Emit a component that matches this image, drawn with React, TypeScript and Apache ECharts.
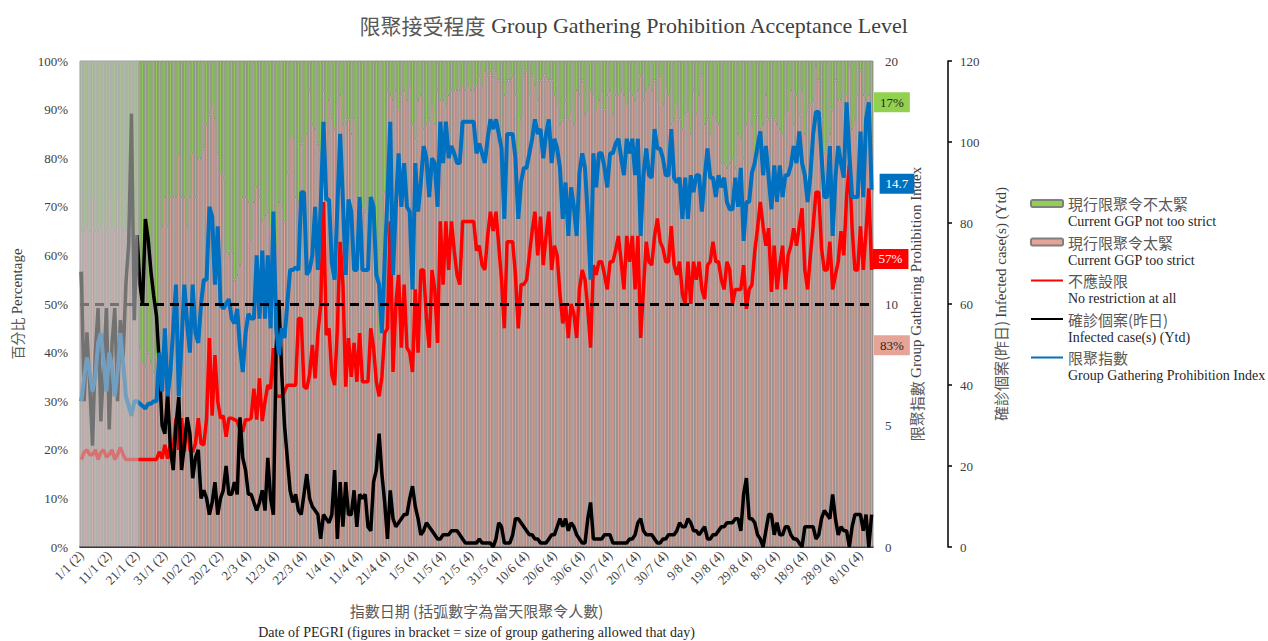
import React, { useEffect, useRef } from 'react';
import * as echarts from 'echarts';

// ---------- categories ----------
const START_YEAR = 2021;
const DAY_COUNT = 285;
// group gathering size allowed (index of first day with that size)
const GROUP_SIZE_FROM_INDEX = [0, 55];
const GROUP_SIZE_VALUES = [2, 4];
// days shown greyed out at the start of the period (first..last index)
const GREY_FIRST = 0;
const GREY_LAST = 20;

function buildCategories(): string[] {
  const out: string[] = [];
  for (let i = 0; i < DAY_COUNT; i++) {
    const d = new Date(Date.UTC(START_YEAR, 0, 1 + i));
    let size = GROUP_SIZE_VALUES[0];
    for (let k = 0; k < GROUP_SIZE_FROM_INDEX.length; k++) {
      if (i >= GROUP_SIZE_FROM_INDEX[k]) size = GROUP_SIZE_VALUES[k];
    }
    out.push(`${d.getUTCDate()}/${d.getUTCMonth() + 1} (${size})`);
  }
  return out;
}
const categories = buildCategories();

// ---------- series values ----------
// 現行限聚令太緊 Current GGP too strict (%)
const tooStrict: number[] = [
  65, 65, 66, 65, 72, 65, 65, 66, 67, 65, 72, 66, 65, 72, 66, 65, 65, 66, 64, 65, 62,
  41, 38, 37, 40, 38, 36, 39, 42,
  66, 72, 66, 72, 72, 72, 81, 72, 72, 66, 72, 81, 72, 80, 80, 82, 87,
  89, 91, 88, 81, 77, 76, 61, 60, 61, 55, 56, 58, 72, 72, 71, 63, 71, 74, 72, 67, 68, 69, 66, 64, 62,
  71, 70, 67, 77, 84, 84, 72, 71, 83, 68, 85, 94, 87, 86, 83, 81, 94, 87, 92, 88, 86, 91, 93, 87, 87,
  88, 85, 88, 72, 69, 70, 69, 68, 72, 65, 56, 43, 60, 73, 94, 93, 92, 94, 90, 93, 94, 92, 95, 87,
  84, 92, 93, 86, 87, 88, 91, 87, 94, 92, 92, 91, 93, 94, 94, 94, 94, 95, 94, 95, 94, 94, 95,
  97, 95, 98, 97, 98, 97, 98, 96, 81, 93, 96, 96, 97, 93, 81, 88, 97, 98, 93, 97, 95, 92, 96, 97,
  97, 96, 96, 93, 91, 87, 88, 92, 88, 90, 87, 94, 93, 96, 89, 90, 94, 93, 90, 92, 94, 90, 93, 94,
  89, 93, 93, 94, 93, 91, 94, 93, 92, 94, 97, 92, 94, 95, 94, 96, 92, 97, 91, 95, 93, 87, 88, 91,
  88, 86, 89, 90, 85, 94, 89, 93, 97, 87, 88, 85, 89, 88, 87, 79, 79, 78, 79, 80, 78, 85, 84,
  80, 87, 90, 87, 78, 89, 86, 87, 93, 88, 89, 88, 87, 86, 85, 89, 90, 94, 87, 93, 89, 94, 85, 90,
  91, 92, 99, 96, 88, 81, 83, 85, 90, 96, 92, 92, 91, 93, 99, 86, 88, 93, 98, 93, 92, 93, 83,
];

// 不應設限 No restriction at all (%)
const noRestriction: number[] = [
  18, 19.5, 20, 19, 19, 20, 18, 19.5, 20, 18.5, 19, 20, 18, 19, 20.5, 19, 18, 18, 18, 18, 18,
  18, 18, 18, 18, 18, 18, 18, 19.6, 18.2, 21, 18.2, 21, 20, 26.5, 20, 26.5, 19.6, 26.5, 20, 19.6, 21.3, 26.5, 21.3, 21, 26.5,
  43, 27, 39.5, 30, 26.5, 27, 22.7, 26.5, 26.5, 26.2, 25.9, 24, 23.8, 26.2, 26.2, 26.5, 32.6, 26.2, 34.7, 25.9, 30, 33.3, 32.6, 40.9,
  31, 31, 31, 32, 33.3, 33.3, 33.3, 33.3, 47, 47, 33, 32.6, 35.4, 41.6, 34.7, 44, 49.8, 71, 43.6, 45, 35.4, 33.3, 45, 62.8, 54,
  33, 43, 35, 42, 34, 44, 34, 34, 34, 45, 41, 34, 31, 35, 44, 45, 67, 36, 50, 56, 41, 54, 41, 40,
  36, 53, 40, 57, 57, 47, 41, 57, 53, 42, 67, 54, 67, 57, 67, 61, 56, 54, 67, 67, 67, 67, 67, 61,
  62, 58, 57, 64, 69, 65, 69, 62, 55, 45, 62.8, 62.8, 62.8, 56, 45, 54, 54, 55, 60, 65, 69, 60, 68,
  58, 64, 69, 57, 62, 60, 52, 46, 50, 43, 50, 48, 43, 53, 57, 55, 49, 41, 58, 56, 58.7, 58.7, 56,
  53, 58.7, 58.7, 61, 64, 58.7, 53, 64, 58.7, 64, 53, 64, 43, 53, 62.8, 58.7, 58, 64, 67.6, 62.8, 61.5, 58.7, 58.7, 66,
  58, 56, 58.7, 52, 50, 58.7, 50, 58.7, 55, 58.7, 53, 51, 58, 58.7, 62.8, 58.7, 58.7, 55, 53, 58.7, 57, 50, 53,
  53, 53, 58, 49, 53, 54, 60.8, 65.6, 71, 66, 62, 65.6, 52.5, 62, 53, 58, 62, 53, 60, 62, 65.6, 62, 66, 69.7, 57,
  53, 60, 66, 73, 73, 61.5, 57, 57, 62.8, 53, 56, 58.7, 65, 60, 72, 78.6, 65.6, 57, 57, 66, 57, 65, 73.8, 57,
];

// 確診個案(昨日) Infected case(s) (Ytd)
const infected: number[] = [
  68, 36, 53, 40, 25, 48, 59, 31, 45, 59, 29, 50, 59, 36, 56, 47, 65, 75, 107, 56, 77, 65, 60,
  81, 76, 68, 62, 57, 45, 30, 28, 38, 24, 19, 30, 37, 19, 25, 32, 28, 17, 22, 24, 12, 14, 12,
  8, 11, 16, 8, 12, 14, 20, 13, 13, 16, 13, 32, 22, 19, 13, 13, 11, 9, 11, 14, 9, 22, 12, 8, 49, 61, 43, 30,
  22, 14, 11, 13, 9, 8, 13, 18, 12, 10, 9, 8, 2, 8, 7, 6, 8, 19, 2, 16, 5, 16, 8, 8, 14, 5, 13, 12, 13, 5,
  4, 16, 19, 28, 18, 11, 2, 14, 7, 5,
  6, 7, 8, 8, 12, 15, 10, 7, 3, 4, 6, 5, 4, 3, 2, 2, 3, 3, 3, 4, 4, 4, 3, 2, 1, 1, 1, 1, 1, 2,
  1, 1, 1, 1, 0, 2, 6, 5, 1, 1, 1, 3, 7, 7, 6, 5, 4, 3, 3, 2, 2, 1, 1, 1, 2, 3, 3, 5, 7, 5,
  7, 4, 6, 5, 3, 2, 1, 1, 7, 11, 2, 2, 2, 2, 3, 3, 3, 1, 1, 1, 1, 1, 1, 2, 2, 3, 6, 7, 4, 3,
  3, 3, 2, 1, 1, 2, 2, 3, 3, 3, 4, 6, 5, 5, 7, 6, 4, 4, 3, 4, 5, 2, 2, 3, 3, 4, 5, 5, 6, 6,
  6, 7, 7, 4, 13, 17, 7, 7, 6, 3, 2, 0, 4, 8, 8, 3, 6, 3, 3, 5, 5, 3, 2, 2, 1, 0, 5, 5, 5, 5,
  2, 3, 7, 9, 8, 7, 13, 7, 3, 5, 4, 4, 0, 5, 8, 8, 8, 4, 8, 0, 8,
];

// 限聚指數 Group Gathering Prohibition Index (0-20)
const ggpIndex: number[] = [
  6.0, 7.0, 7.8, 7.2, 6.4, 7.0, 8.4, 8.8, 7.6, 6.4, 8.0, 7.4, 6.2, 7.2, 8.8, 7.6, 6.2, 5.8, 5.4, 6.0, 6.0,
  5.9, 5.8, 5.7, 5.9, 5.9, 6.0, 6.0, 8.0, 6.4, 9.0, 6.2, 7.2, 9.0, 10.8, 6.2, 8.4, 10.8, 9.2, 8.0, 10.8, 8.8, 8.4, 10.0, 11.0, 11.0,
  14.0, 13.6, 10.8, 13.2, 10.0, 9.8, 10.0, 10.2, 9.4, 9.2, 9.8, 8.2, 7.2, 8.8, 9.6, 9.4, 9.4, 12.0, 9.4, 12.2, 9.4, 12.0, 9.0, 13.8, 9.0,
  7.9, 9.0, 8.6, 10.0, 11.4, 11.4, 11.5, 11.4, 14.6, 14.6, 11.2, 11.4, 12.0, 14.0, 11.4, 14.0, 17.5, 14.3, 14.3, 11.7, 11.0, 14.0, 17.0, 14.2, 11.2,
  14.3, 13.8, 11.4, 11.4, 14.4, 11.4, 11.4, 11.4, 14.4, 14.0, 11.2, 10.8, 8.8, 11.8, 14.4, 17.5, 11.2, 14.0, 16.2, 14.0, 15.8, 14.0, 13.8, 10.6,
  15.8, 13.8, 15.0, 16.5, 16.0, 14.4, 16.0, 15.8, 14.0, 17.5, 15.8, 17.5, 16.0, 16.5, 16.2, 15.8, 15.8, 17.5, 17.5, 17.5, 17.5, 17.5, 16.2,
  16.6, 16.2, 15.8, 16.8, 17.6, 17.2, 17.6, 17.0, 16.4, 13.5, 17.0, 17.0, 17.0, 16.0, 13.5, 15.0, 15.6, 15.6, 16.2, 16.8, 17.6, 17.0, 17.2,
  16.0, 17.0, 17.6, 15.8, 16.8, 16.4, 15.6, 13.5, 15.0, 12.8, 14.8, 14.0, 12.8, 15.4, 16.2, 15.6, 13.6, 11.0, 16.2, 14.8, 16.2, 16.2, 15.6,
  14.8, 16.2, 16.2, 16.6, 16.8, 16.0, 15.3, 16.8, 16.2, 16.8, 15.3, 16.8, 12.8, 15.3, 16.4, 15.3, 15.2, 17.2, 16.4, 16.4, 16.0, 15.3, 15.3, 17.2,
  15.2, 15.0, 15.2, 13.5, 15.2, 13.5, 15.3, 14.6, 15.3, 15.3, 13.8, 15.2, 16.4, 15.2, 15.2, 14.4, 15.3, 14.8, 15.2, 14.2, 13.9, 13.9, 15.2,
  14.0, 15.6, 12.6, 14.2, 14.2, 15.4, 15.8, 16.5, 17.1, 15.3, 16.5, 15.2, 13.9, 15.7, 14.2, 15.7, 14.4, 15.3, 15.3, 15.7, 16.5, 15.8, 17.1, 15.8, 15.3,
  14.2, 15.3, 17.0, 17.9, 17.9, 16.1, 14.4, 14.4, 16.5, 12.8, 15.2, 16.5, 15.8, 15.2, 18.3, 16.2, 14.4, 14.4, 14.4, 17.1, 14.4, 17.6, 18.3, 14.7,
];

// derived: 現行限聚令不太緊 (complement of too strict, 100% stacked)
const notTooStrict = tooStrict.map((v) => 100 - v);

// ---------- names ----------
const NAME_GREEN = '現行限聚令不太緊';
const NAME_PINK = '現行限聚令太緊';
const NAME_RED = '不應設限';
const NAME_BLACK = '確診個案(昨日)';
const NAME_BLUE = '限聚指數';
const LEGEND_EN: Record<string, string> = {
  [NAME_GREEN]: 'Current GGP not too strict',
  [NAME_PINK]: 'Current GGP too strict',
  [NAME_RED]: 'No restriction at all',
  [NAME_BLACK]: 'Infected case(s) (Ytd)',
  [NAME_BLUE]: 'Group Gathering Prohibition Index',
};

const SERIF = "'Liberation Serif', 'Times New Roman', 'Noto Sans CJK TC', serif";
const CJK = "'Noto Sans CJK TC', 'Noto Sans CJK SC', sans-serif";
const TXT = '#404040';
const CJK_TXT = '#595959';
const GREEN = '#92D050';
const PINK = '#E6A397';
const RED = '#FF0000';
const BLUE = '#0070C0';
const BAR_BORDER = '#808080';

export default function App() {
  const ref = useRef<HTMLDivElement>(null);

  useEffect(() => {
    if (!ref.current) return;
    const chart = echarts.init(ref.current, undefined, { renderer: 'svg' });
    const last = DAY_COUNT - 1;

    const endBarLabel = (bg: string) => ({
      show: true,
      position: 'right',
      distance: 1,
      formatter: '{c}%',
      backgroundColor: bg,
      color: '#262626',
      fontFamily: SERIF,
      fontSize: 13,
      padding: [4, 6, 3, 6],
    });
    const pinkData = tooStrict.map((v, i) => (i === last ? { value: v, label: endBarLabel(PINK) } : v));
    const greenData = notTooStrict.map((v, i) => (i === last ? { value: v, label: endBarLabel(GREEN) } : v));

    const option: any = {
      animation: false,
      backgroundColor: '#ffffff',
      title: {
        text: '{cn|限聚接受程度} {en|Group Gathering Prohibition Acceptance Level}',
        left: 'center',
        top: 9,
        textStyle: {
          rich: {
            cn: { fontFamily: CJK, fontSize: 21, color: CJK_TXT, fontWeight: 'normal' },
            en: { fontFamily: SERIF, fontSize: 22, color: TXT, fontWeight: 'normal' },
          },
        },
      },
      legend: {
        orient: 'vertical',
        left: 1030,
        top: 196,
        padding: 0,
        itemWidth: 32,
        itemHeight: 7,
        itemGap: 6,
        data: [
          { name: NAME_GREEN },
          { name: NAME_PINK },
          { name: NAME_RED, itemStyle: { opacity: 0 } },
          { name: NAME_BLACK, itemStyle: { opacity: 0 } },
          { name: NAME_BLUE, itemStyle: { opacity: 0 } },
        ],
        formatter: (name: string) => `{cn|${name}}\n{en|${LEGEND_EN[name]}}`,
        textStyle: {
          padding: [18, 0, 0, 0],
          rich: {
            cn: { fontFamily: CJK, fontSize: 15, lineHeight: 18, color: CJK_TXT },
            en: { fontFamily: SERIF, fontSize: 14, lineHeight: 18, color: '#262626' },
          },
        },
      },
      grid: {
        left: 80,
        right: 395,
        top: 61,
        bottom: 94,
        outerBoundsMode: 'none',
        containLabel: false,
        show: true,
        borderColor: '#A6A6A6',
        borderWidth: 1,
        backgroundColor: 'transparent',
      },
      xAxis: {
        type: 'category',
        data: categories,
        boundaryGap: true,
        axisLine: { show: true, lineStyle: { color: '#000', width: 1.5 } },
        axisTick: { show: false },
        axisLabel: {
          interval: 9,
          rotate: 45,
          margin: 6,
          fontFamily: SERIF,
          fontSize: 13,
          color: TXT,
        },
        name: '{cn|指數日期 (括弧數字為當天限聚令人數)}\n{en|Date of PEGRI (figures in bracket = size of group gathering allowed that day)}',
        nameLocation: 'middle',
        nameGap: 52,
        nameTextStyle: {
          rich: {
            cn: { fontFamily: CJK, fontSize: 15, lineHeight: 22, color: CJK_TXT },
            en: { fontFamily: SERIF, fontSize: 14, lineHeight: 22, color: '#262626' },
          },
        },
      },
      yAxis: [
        {
          type: 'value',
          position: 'left',
          min: 0,
          max: 100,
          interval: 10,
          axisLine: { show: false },
          axisTick: { show: false },
          splitLine: { show: false },
          axisLabel: { formatter: '{value}%', margin: 12, fontFamily: SERIF, fontSize: 13, color: TXT },
          name: '{cn|百分比} {en|Percentage}',
          nameLocation: 'middle',
          nameRotate: 90,
          nameGap: 56,
          nameTextStyle: {
            rich: {
              cn: { fontFamily: CJK, fontSize: 14, color: CJK_TXT },
              en: { fontFamily: SERIF, fontSize: 15, color: TXT },
            },
          },
        },
        {
          type: 'value',
          position: 'right',
          min: 0,
          max: 20,
          interval: 5,
          axisLine: { show: false },
          axisTick: { show: false },
          splitLine: { show: false },
          axisLabel: { margin: 12, fontFamily: SERIF, fontSize: 13, color: TXT },
          name: '{cn|限聚指數} {en|Group Gathering Prohibition Index}',
          nameLocation: 'middle',
          nameRotate: 90,
          nameGap: 34,
          nameTextStyle: {
            rich: {
              cn: { fontFamily: CJK, fontSize: 15, color: CJK_TXT },
              en: { fontFamily: SERIF, fontSize: 15, color: TXT },
            },
          },
        },
        {
          type: 'value',
          position: 'right',
          offset: 75,
          min: 0,
          max: 120,
          interval: 20,
          axisLine: { show: true, lineStyle: { color: '#000', width: 1.5 } },
          axisTick: { show: true, length: 4, lineStyle: { color: '#000', width: 1.5 } },
          splitLine: { show: false },
          axisLabel: { margin: 12, fontFamily: SERIF, fontSize: 13, color: TXT },
          name: '{cn|確診個案(昨日)} {en|Infected case(s) (Ytd)}',
          nameLocation: 'middle',
          nameRotate: 90,
          nameGap: 45,
          nameTextStyle: {
            rich: {
              cn: { fontFamily: CJK, fontSize: 15, color: CJK_TXT },
              en: { fontFamily: SERIF, fontSize: 15, color: TXT },
            },
          },
        },
      ],
      series: [
        {
          name: NAME_PINK,
          type: 'bar',
          stack: 'ggp',
          data: pinkData,
          barCategoryGap: '0%',
          itemStyle: { color: PINK, borderColor: BAR_BORDER, borderWidth: 0.8 },
          markLine: {
            silent: true,
            symbol: 'none',
            label: { show: false },
            lineStyle: { color: '#000', width: 3, type: [9, 6] },
            data: [{ yAxis: 50 }],
          },
        },
        {
          name: NAME_GREEN,
          type: 'bar',
          stack: 'ggp',
          data: greenData,
          barCategoryGap: '0%',
          itemStyle: { color: GREEN, borderColor: BAR_BORDER, borderWidth: 0.8 },
        },
        {
          name: NAME_RED,
          type: 'line',
          yAxisIndex: 0,
          data: noRestriction,
          showSymbol: false,
          symbol: 'none',
          itemStyle: { color: RED },
          lineStyle: { color: RED, width: 3.5 },
          endLabel: {
            show: true,
            distance: 1,
            offset: [0, -11],
            formatter: (p: any) => `${Math.round(p.value)}%`,
            backgroundColor: RED,
            color: '#ffffff',
            fontFamily: SERIF,
            fontSize: 13,
            padding: [4, 6, 3, 6],
          },
        },
        {
          name: NAME_BLACK,
          type: 'line',
          yAxisIndex: 2,
          data: infected,
          showSymbol: false,
          symbol: 'none',
          itemStyle: { color: '#000' },
          lineStyle: { color: '#000', width: 3.5 },
        },
        {
          name: NAME_BLUE,
          type: 'line',
          yAxisIndex: 1,
          data: ggpIndex,
          showSymbol: false,
          symbol: 'none',
          itemStyle: { color: BLUE },
          lineStyle: { color: BLUE, width: 4 },
          endLabel: {
            show: true,
            distance: 8,
            offset: [0, -6],
            formatter: (p: any) => `${p.value}`,
            backgroundColor: BLUE,
            color: '#ffffff',
            fontFamily: SERIF,
            fontSize: 13,
            padding: [4, 6, 3, 6],
          },
        },
      ],
    };

    chart.setOption(option);

    // grey overlay on the first days, positioned with the chart's own scales
    const xa = chart.convertToPixel({ xAxisIndex: 0 }, GREY_FIRST) as number;
    const xb = chart.convertToPixel({ xAxisIndex: 0 }, GREY_LAST) as number;
    const band = GREY_LAST > GREY_FIRST ? (xb - xa) / (GREY_LAST - GREY_FIRST) : 0;
    const yTop = chart.convertToPixel({ yAxisIndex: 0 }, 100) as number;
    const yBot = chart.convertToPixel({ yAxisIndex: 0 }, 0) as number;
    chart.setOption({
      graphic: [
        {
          type: 'rect',
          silent: true,
          z: 100,
          shape: { x: xa - band / 2, y: yTop, width: xb - xa + band, height: yBot - yTop - 1 },
          style: { fill: 'rgba(190,190,190,0.6)' },
        },
      ],
    });

    return () => chart.dispose();
  }, []);

  return (
    <div
      ref={ref}
      style={{ position: 'absolute', left: 0, top: 0, width: 1268, height: 641, background: '#fff' }}
    />
  );
}
